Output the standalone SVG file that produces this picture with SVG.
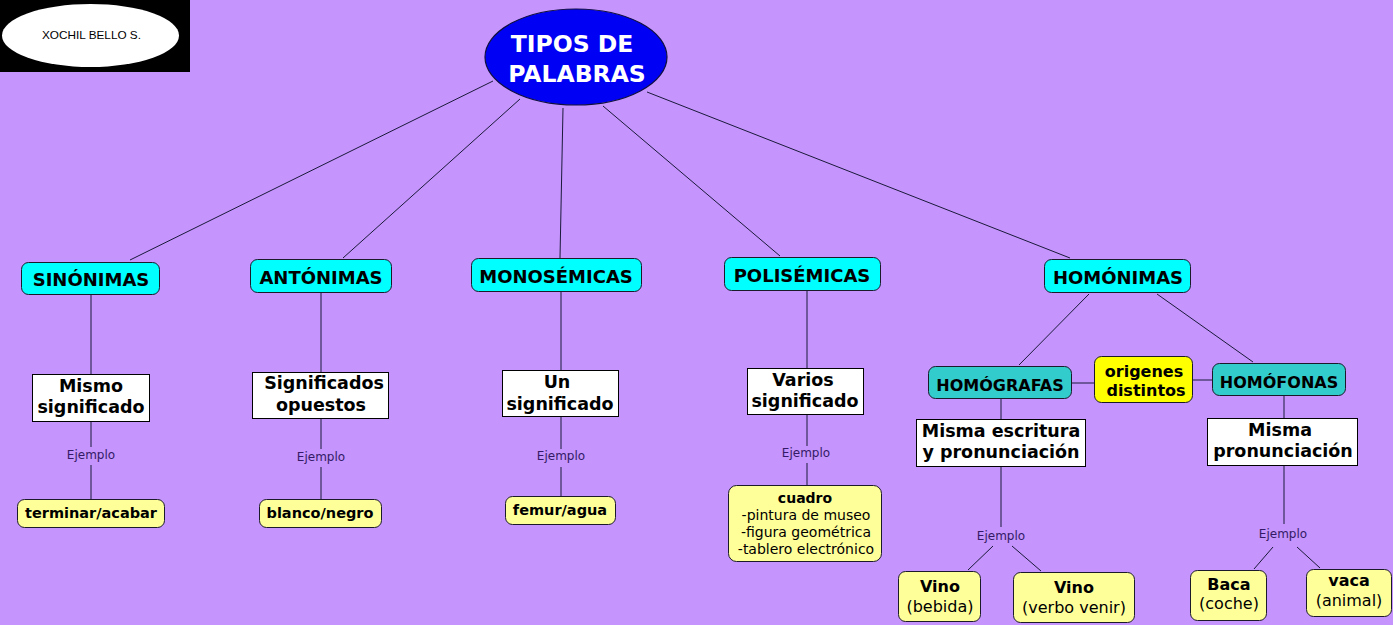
<svg xmlns="http://www.w3.org/2000/svg" width="1393" height="625" viewBox="0 0 1393 625">
<style>
.t{font-family:"DejaVu Sans",Verdana,sans-serif;text-anchor:middle;fill:#000}
.b{font-weight:bold}
.h{font-size:18px;font-weight:bold}
.w{font-size:17.5px;font-weight:bold}
.y{font-size:14.5px;font-weight:bold}
.e{font-family:"DejaVu Sans",Verdana,sans-serif;font-size:12px;fill:#331a66;text-anchor:middle}
.cy{fill:#00FFFF;stroke:#1a1a2a;stroke-width:1}
.tl{fill:#33CCCC;stroke:#1a1a2a;stroke-width:1}
.wb{fill:#FFFFFF;stroke:#000;stroke-width:1}
.ly{fill:#FFFF99;stroke:#1a1a2a;stroke-width:1}
.yy{fill:#FFFF00;stroke:#1a1a2a;stroke-width:1}
#links line{stroke:#1a1a3a;stroke-width:1}
</style>
<rect width="1393" height="625" fill="#C594FC"/>
<g id="author">
<rect x="0" y="0" width="190" height="72" fill="#000"/>
<ellipse cx="90.5" cy="35.5" rx="88.5" ry="31.5" fill="#fff"/>
<text x="91.5" y="39" style="font-family:'Liberation Sans',Arial,sans-serif;font-size:11px;text-anchor:middle" textLength="99" lengthAdjust="spacingAndGlyphs">XOCHIL BELLO S.</text>
</g>
<g id="links">
<line x1="493" y1="81" x2="130" y2="260"/>
<line x1="520" y1="99" x2="343" y2="258"/>
<line x1="563" y1="108" x2="560" y2="258"/>
<line x1="603" y1="106" x2="780" y2="256"/>
<line x1="647" y1="92" x2="1070" y2="258"/>
<line x1="91" y1="295" x2="91" y2="374"/>
<line x1="91" y1="422" x2="91" y2="447"/>
<line x1="91" y1="465" x2="91" y2="499"/>
<line x1="321" y1="293" x2="321" y2="372"/>
<line x1="321" y1="419" x2="321" y2="449"/>
<line x1="321" y1="467" x2="321" y2="499"/>
<line x1="561" y1="292" x2="561" y2="370"/>
<line x1="561" y1="417" x2="561" y2="449"/>
<line x1="561" y1="467" x2="561" y2="497"/>
<line x1="807" y1="291" x2="807" y2="368"/>
<line x1="807" y1="415" x2="807" y2="446"/>
<line x1="807" y1="463" x2="807" y2="485"/>
<line x1="1089" y1="294" x2="1019" y2="365"/>
<line x1="1157" y1="294" x2="1253" y2="362"/>
<line x1="1072" y1="383" x2="1094" y2="383"/>
<line x1="1193" y1="380" x2="1212" y2="380"/>
<line x1="1001" y1="399" x2="1001" y2="419"/>
<line x1="1284" y1="396" x2="1284" y2="418"/>
<line x1="1001" y1="467" x2="1001" y2="527"/>
<line x1="1284" y1="466" x2="1284" y2="524"/>
<line x1="993" y1="546" x2="968" y2="570"/>
<line x1="1012" y1="546" x2="1041" y2="571"/>
<line x1="1273" y1="547" x2="1254" y2="569"/>
<line x1="1297" y1="547" x2="1320" y2="568"/>
</g>
<g id="labels">
<text class="e" x="91" y="459">Ejemplo</text>
<text class="e" x="321" y="461">Ejemplo</text>
<text class="e" x="561" y="460">Ejemplo</text>
<text class="e" x="806" y="457">Ejemplo</text>
<text class="e" x="1001" y="540">Ejemplo</text>
<text class="e" x="1283" y="538">Ejemplo</text>
</g>
<g id="root">
<ellipse cx="576" cy="57" rx="91" ry="48" fill="#0000F5" stroke="#101040" stroke-width="1.2"/>
<text class="t b" x="572" y="52" style="font-size:23.5px;fill:#fff">TIPOS DE</text>
<text class="t b" x="577" y="82" style="font-size:23.5px;fill:#fff">PALABRAS</text>
</g>
<g id="sinonimas"><rect class="cy" x="21.5" y="262.5" width="138" height="32" rx="7"/><text class="t h" x="91" y="286">SINÓNIMAS</text></g>
<g id="antonimas"><rect class="cy" x="250.5" y="259.5" width="141" height="33" rx="7"/><text class="t h" x="321" y="284">ANTÓNIMAS</text></g>
<g id="monosemicas"><rect class="cy" x="471.5" y="258.5" width="170" height="33" rx="7"/><text class="t h" x="556" y="283">MONOSÉMICAS</text></g>
<g id="polisemicas"><rect class="cy" x="724.5" y="257.5" width="156" height="33" rx="7"/><text class="t h" x="802" y="282">POLISÉMICAS</text></g>
<g id="homonimas"><rect class="cy" x="1044.5" y="259.5" width="146" height="33" rx="7"/><text class="t h" x="1118" y="284">HOMÓNIMAS</text></g>
<g id="mismo"><rect class="wb" x="32.5" y="374.5" width="117" height="47"/><text class="t w" x="91" y="392">Mismo</text><text class="t w" x="91" y="413">significado</text></g>
<g id="opuestos"><rect class="wb" x="252.5" y="372.5" width="136" height="46"/><text class="t w" x="324" y="389">Significados</text><text class="t w" x="321" y="411">opuestos</text></g>
<g id="un"><rect class="wb" x="502.5" y="370.5" width="116" height="46"/><text class="t w" x="557" y="388">Un</text><text class="t w" x="560" y="410">significado</text></g>
<g id="varios"><rect class="wb" x="747.5" y="368.5" width="116" height="46"/><text class="t w" x="803" y="386">Varios</text><text class="t w" x="805" y="407">significado</text></g>
<g id="terminar"><rect class="ly" x="17.5" y="499.5" width="147" height="28" rx="7"/><text class="t y" x="91" y="518">terminar/acabar</text></g>
<g id="blanco"><rect class="ly" x="259.5" y="499.5" width="122" height="28" rx="7"/><text class="t y" x="320" y="518">blanco/negro</text></g>
<g id="femur"><rect class="ly" x="505.5" y="496.5" width="110" height="28" rx="7"/><text class="t y" x="560" y="515">femur/agua</text></g>
<g id="cuadro"><rect class="ly" x="728.5" y="485.5" width="153" height="76" rx="8"/>
<text class="t b" x="805" y="503" style="font-size:14px">cuadro</text>
<text class="t" x="806" y="520" style="font-size:14px">-pintura de museo</text>
<text class="t" x="806" y="537" style="font-size:14px">-figura geométrica</text>
<text class="t" x="806" y="554" style="font-size:14px">-tablero electrónico</text></g>
<g id="homografas"><rect class="tl" x="928.5" y="366.5" width="143" height="32" rx="7"/><text class="t b" x="1000" y="391" style="font-size:16px">HOMÓGRAFAS</text></g>
<g id="origenes"><rect class="yy" x="1094.5" y="356.5" width="98" height="46" rx="7"/><text class="t b" x="1144" y="377" style="font-size:16px">origenes</text><text class="t b" x="1146" y="396" style="font-size:16px">distintos</text></g>
<g id="homofonas"><rect class="tl" x="1212.5" y="363.5" width="133" height="32" rx="7"/><text class="t b" x="1279" y="388" style="font-size:16px">HOMÓFONAS</text></g>
<g id="escritura"><rect class="wb" x="916.5" y="419.5" width="169" height="47"/><text class="t w" x="1001" y="437">Misma escritura</text><text class="t w" x="1001" y="458">y pronunciación</text></g>
<g id="pronunciacion"><rect class="wb" x="1207.5" y="418.5" width="150" height="47"/><text class="t w" x="1280" y="436">Misma</text><text class="t w" x="1283" y="457">pronunciación</text></g>
<g id="vino1"><rect class="ly" x="898.5" y="571.5" width="82" height="50" rx="7"/><text class="t b" x="940" y="592" style="font-size:16px">Vino</text><text class="t" x="940" y="612" style="font-size:16px">(bebida)</text></g>
<g id="vino2"><rect class="ly" x="1013.5" y="572.5" width="121" height="50" rx="7"/><text class="t b" x="1074" y="593" style="font-size:16px">Vino</text><text class="t" x="1074" y="613" style="font-size:16px">(verbo venir)</text></g>
<g id="baca"><rect class="ly" x="1190.5" y="570.5" width="76" height="50" rx="7"/><text class="t b" x="1229" y="590" style="font-size:16px">Baca</text><text class="t" x="1229" y="609" style="font-size:16px">(coche)</text></g>
<g id="vaca"><rect class="ly" x="1306.5" y="569.5" width="85" height="47" rx="7"/><text class="t b" x="1349" y="586" style="font-size:16px">vaca</text><text class="t" x="1349" y="606" style="font-size:16px">(animal)</text></g>
</svg>
